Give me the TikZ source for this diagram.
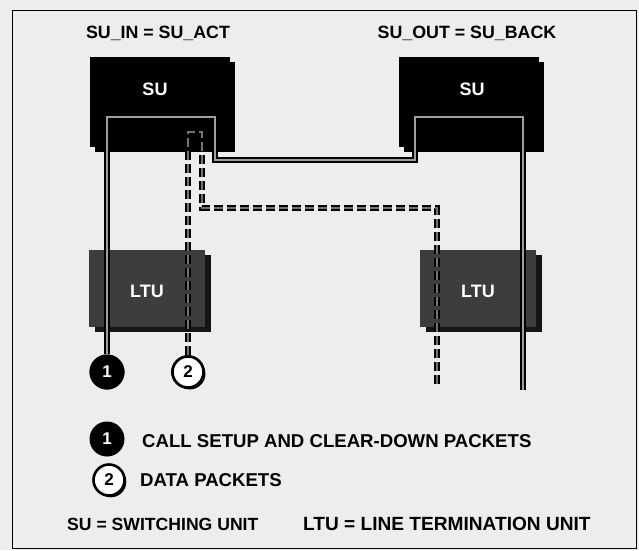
\documentclass[tikz,border=0pt]{standalone}
\usepackage{fontspec}
\setmainfont{Liberation Sans}
\usetikzlibrary{shadows}

\tikzset{
  txt/.style={font=\bfseries\fontsize{18}{20}\selectfont, inner sep=0pt},
  boxtxt/.style={txt, text=white},
  subox/.style={fill=black, minimum width=140pt, minimum height=90pt, inner sep=0pt,
    drop shadow={opacity=1, fill=black, shadow xshift=5pt, shadow yshift=-5pt}},
  ltubox/.style={fill=black!76, minimum width=116pt, minimum height=77pt, inner sep=0pt,
    drop shadow={opacity=1, fill=black!92, shadow xshift=6pt, shadow yshift=-5pt}},
  ctrl/.style={draw=black, line width=1.7pt, double=black!38, double distance=2.8pt},
  data/.style={draw=black, line width=1.8pt, double=black!55, double distance=2.6pt,
    dash pattern=on 9pt off 4pt},
  numdark/.style={circle, fill=black, text=white, minimum size=35pt, inner sep=0pt,
    font=\bfseries\fontsize{17}{19}\selectfont},
  numlight/.style={circle, draw=black, line width=2.6pt, fill=white, minimum size=31pt,
    inner sep=0pt, font=\bfseries\fontsize{17}{19}\selectfont,
    drop shadow={opacity=1, fill=black, shadow xshift=1.8pt, shadow yshift=-1.8pt}}
}

\begin{document}
\begin{tikzpicture}[x=1pt, y=-1pt]
  \useasboundingbox (0,0) rectangle (639,550);
  \fill[black!7] (0,0) rectangle (639,550);
  \draw[line width=0.8pt] (12,10) rectangle (636,548);

  % switching units
  \node[txt, font=\bfseries\fontsize{17.8}{20}\selectfont] (inlbl) at (158,33) {SU\_IN = SU\_ACT};
  \node[txt, font=\bfseries\fontsize{17.8}{20}\selectfont] (outlbl) at (467,33) {SU\_OUT = SU\_BACK};
  \node[subox] (su1) at (160,102) {};
  \node[subox] (su2) at (469,102) {};
  \node[boxtxt] (su1txt) at (155,89) {SU};
  \node[boxtxt] (su2txt) at (472,89) {SU};

  % line termination units
  \node[ltubox] (ltu1) at (147,288) {};
  \node[ltubox] (ltu2) at (478,288) {};
  \node[boxtxt] (ltu1txt) at (147,291) {LTU};
  \node[boxtxt] (ltu2txt) at (478,291) {LTU};

  % packet routes
  \node[numdark] (c1) at (107,372) {1};
  \node[numlight] (c2) at (188,372) {2};
  \coordinate (a1) at (215,117);
  \coordinate (a2) at (415,160);
  \coordinate (a3) at (523,117);
  \coordinate (e1) at (523,390);
  \coordinate (b1) at (202,132);
  \coordinate (b2) at (437,208);
  \coordinate (e2) at (437,385);
  \draw[ctrl] (c1.north) |- (a1) |- (a2) |- (a3) -- (e1);
  \draw[data] (c2.north) |- (b1) |- (b2) -- (e2);
  \node[numdark] at (c1) {1};
  \node[numlight] at (c2) {2};

  % legend
  \node[numdark] (l1) at (107,439) {1};
  \node[numlight] (l2) at (109,480) {2};
  \node[txt, anchor=west, font=\bfseries\fontsize{18.6}{21}\selectfont] (l1txt) at (142,441) {CALL SETUP AND CLEAR-DOWN PACKETS};
  \node[txt, anchor=west, font=\bfseries\fontsize{18.6}{21}\selectfont] (l2txt) at (140,480) {DATA PACKETS};
  \node[txt, anchor=west, font=\bfseries\fontsize{17.6}{20}\selectfont] (sutxt) at (67,524) {SU = SWITCHING UNIT};
  \node[txt, anchor=west, font=\bfseries\fontsize{19.1}{21}\selectfont] (ltutxt) at (303,524) {LTU = LINE TERMINATION UNIT};
\end{tikzpicture}
\end{document}
